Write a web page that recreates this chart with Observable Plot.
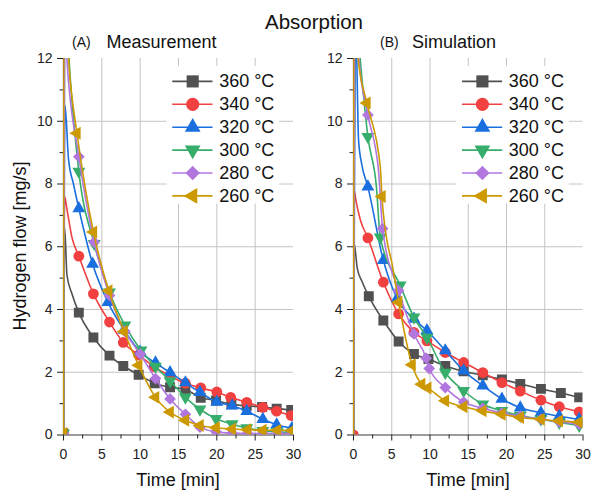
<!DOCTYPE html>
<html>
<head>
<meta charset="utf-8">
<script src="https://cdn.jsdelivr.net/npm/d3@7"></script>
<script src="https://cdn.jsdelivr.net/npm/@observablehq/plot@0.6"></script>
<style>
  html, body { margin: 0; padding: 0; background: #fff; }
  #wrap { position: relative; width: 592px; height: 490px; background: #fff; font-family: "Liberation Sans", Arial, sans-serif; overflow: hidden; }
  #wrap > div, #wrap > svg { position: absolute; top: 0; }
</style>
</head>
<body>
<div id="wrap">
  <div id="pa" style="left:0px"></div>
  <div id="pb" style="left:296px"></div>
</div>
<script>
// ---- categories / labels ----
const temps = ["360 °C", "340 °C", "320 °C", "300 °C", "280 °C", "260 °C"];
const panelTitles = ["Measurement", "Simulation"];
const panelTags = ["(A)", "(B)"];
const xTicks = [0, 5, 10, 15, 20, 25, 30];
const yTicks = [0, 2, 4, 6, 8, 10, 12];

// ---- series values: [time (min), flow (mg/s), has marker] ----
const meas360 = [[0,0.05,1],[0.15,6.6,0],[0.45,5.1,0],[1.1,4.5,0],[2,3.9,1],[3.9,3.11,1],[6,2.53,1],[7.8,2.2,1],[9.8,1.92,1],[11.9,1.65,1],[13.9,1.52,1],[15.9,1.45,1],[17.9,1.19,1],[19.9,1.1,1],[21.9,0.98,1],[23.9,0.93,1],[25.9,0.89,1],[27.8,0.84,1],[29.7,0.8,1]];
const meas340 = [[0,0.05,1],[0.15,7.6,0],[0.45,7.2,0],[1.1,6.3,0],[2,5.7,1],[3.9,4.5,1],[6,3.6,1],[7.8,2.95,1],[9.8,2.55,1],[11.8,2.18,1],[13.9,1.88,1],[15.9,1.65,1],[17.9,1.5,1],[20,1.37,1],[21.8,1.2,1],[23.9,1.04,1],[26,0.88,1],[27.8,0.76,1],[29.7,0.62,1]];
const meas320 = [[0,0.05,1],[0.2,10.5,0],[0.65,8.8,0],[1.3,8.0,0],[2,7.22,1],[3.8,5.45,1],[5.8,4.23,1],[7.9,3.35,1],[10,2.65,1],[12,2.3,1],[13.9,1.99,1],[15.9,1.67,1],[17.8,1.36,1],[20,1.05,1],[22,0.93,1],[23.9,0.76,1],[26,0.5,1],[27.8,0.33,1],[29.8,0.22,1]];
const meas300 = [[0,0.05,1],[0.2,14,0],[0.87,11.4,0],[2,8.4,1],[4,6.1,1],[6,4.55,1],[8,3.5,1],[10.1,2.7,1],[12,2.18,1],[13.9,1.72,1],[15.9,1.2,1],[17.8,0.82,1],[19.9,0.52,1],[22,0.35,1],[23.9,0.22,1],[26,0.14,1],[27.9,0.1,1],[29.8,0.08,1]];
const meas280 = [[0,0.05,1],[0.2,14,0],[0.44,12,0],[2,8.87,1],[4,6.15,1],[6,4.45,1],[8,3.3,1],[10,2.58,1],[12,1.8,1],[13.9,1.15,1],[15.9,0.66,1],[17.8,0.25,1],[19.9,0.1,1],[22,0.06,1],[24,0.05,1],[26,0.05,1],[28,0.05,1],[29.8,0.05,1]];
const meas260 = [[0,0.05,1],[0.03,14,0],[0.87,11.3,0],[1.75,9.62,1],[3.9,6.47,1],[5.9,4.6,1],[7.9,3.3,1],[9.8,2.22,1],[12,1.2,1],[13.9,0.73,1],[15.9,0.47,1],[17.8,0.3,1],[19.9,0.23,1],[22,0.19,1],[24,0.17,1],[26,0.15,1],[27.9,0.15,1],[29.8,0.14,1]];

const sim360 = [[0,0,0],[0.08,6.1,0],[0.5,5.3,0],[1.1,4.9,0],[2,4.42,1],[3.9,3.65,1],[5.9,2.98,1],[7.9,2.58,1],[9.8,2.42,1],[12,2.2,1],[14.4,2.03,1],[16.9,1.9,1],[19.4,1.77,1],[21.8,1.63,1],[24.5,1.47,1],[27.1,1.34,1],[29.5,1.2,1]];
const sim340 = [[0,0,1],[0.08,7.8,0],[0.3,7.5,0],[0.9,6.85,0],[1.88,6.28,1],[3.9,4.87,1],[5.9,3.86,1],[7.9,3.27,1],[9.6,3.0,1],[12,2.63,1],[14.4,2.31,1],[16.9,1.99,1],[19.4,1.67,1],[21.8,1.4,1],[24.5,1.11,1],[26.9,0.9,1],[29.5,0.74,1]];
const sim320 = [[0,0,0],[0.3,13,0],[0.66,9.4,0],[1.1,8.6,0],[1.88,7.91,1],[3.9,5.57,1],[5.7,4.35,1],[7.9,3.7,1],[9.6,3.33,1],[12,2.69,1],[14.4,2.05,1],[16.9,1.57,1],[19.4,1.15,1],[21.8,0.87,1],[24.5,0.71,1],[26.9,0.6,1],[29.5,0.5,1]];
const sim300 = [[0,0,0],[0.2,14,0],[0.87,12,0],[1.88,9.51,1],[3.0,7.9,0],[3.5,6.3,1],[6.1,4.77,1],[7.9,3.75,1],[9.6,3.11,1],[12,1.99,1],[14.4,1.41,1],[16.9,0.98,1],[19.4,0.77,1],[21.8,0.62,1],[24.5,0.5,1],[26.9,0.4,1],[29.5,0.3,1]];
const sim280 = [[0,0,0],[0.2,14,0],[0.7,12,0],[1.88,10.2,1],[3.28,8.4,0],[3.8,6.58,1],[5.9,4.6,1],[7.9,3.22,1],[9.5,2.45,1],[9.9,2.12,1],[12,1.51,1],[14.4,1.05,1],[16.9,0.85,1],[19.4,0.7,1],[21.8,0.6,1],[24.5,0.5,1],[26.9,0.42,1],[29.5,0.35,1]];
const sim260 = [[0,0,0],[0.03,14,0],[0.6,12,0],[1.75,10.58,1],[3.5,8.55,0],[3.72,7.6,1],[4.37,6.2,0],[5.0,5.5,0],[5.9,4.23,1],[7.65,2.24,1],[8.9,1.62,1],[9.7,1.5,1],[12,1.09,1],[14.4,0.9,1],[16.9,0.77,1],[19.4,0.66,1],[21.8,0.56,1],[24.5,0.5,1],[26.9,0.45,1],[29.5,0.41,1]];

// ---- styles ----
const colors = ["#515151", "#F14040", "#1A6FDF", "#37AD6B", "#B177DE", "#CC9900"];
const symbols = ["square", "circle", "triangle", "triangle", "square", "triangle"];
const rotations = [0, 0, 0, 180, 45, -90];
const markR = [5.6, 5.4, 4.8, 4.8, 4.7, 4.8];
const FONT = "'Liberation Sans', Arial, sans-serif";

const toRows = arr => arr.map(([t, v, m]) => ({t, v, m}));
const measSeries = [meas360, meas340, meas320, meas300, meas280, meas260].map(toRows);
const simSeries = [sim360, sim340, sim320, sim300, sim280, sim260].map(toRows);

function panel(series, opts) {
  const legendRows = temps.map((label, i) => ({label, i, y: 11.27 - i * 0.73}));
  const marks = [
    Plot.gridX({ticks: [5, 10, 15, 20, 25], stroke: "#c4c4c4", strokeOpacity: 1, strokeWidth: 1}),
    Plot.gridY({ticks: [2, 4, 6, 8, 10], stroke: "#c4c4c4", strokeOpacity: 1, strokeWidth: 1}),
    Plot.rect([0], {x1: 13.5, x2: 28.2, y1: 7.36, y2: 11.74, fill: "white"}),
    Plot.ruleX([0], {stroke: "#3a3a3a", strokeWidth: 1.2}),
    Plot.ruleY([0], {stroke: "#3a3a3a", strokeWidth: 1.2})
  ];
  series.forEach((rows, i) => {
    marks.push(Plot.line(rows, {x: "t", y: "v", stroke: colors[i], strokeWidth: 1.6, curve: "monotone-x", clip: true}));
    marks.push(Plot.dot(rows.filter(d => d.m), {x: "t", y: "v", symbol: symbols[i], rotate: rotations[i], fill: colors[i], stroke: "none", r: markR[i], clip: true}));
  });
  marks.push(
    Plot.axisX({ticks: xTicks, tickSize: 6, tickPadding: 8.5, fontSize: 14, label: null, tickFormat: d => String(d)}),
    Plot.axisX({ticks: [2.5, 7.5, 12.5, 17.5, 22.5, 27.5], tickSize: 4, label: null, tickFormat: () => ""}),
    Plot.axisY({ticks: yTicks, tickSize: 6, tickPadding: 5, fontSize: 14, label: null, tickFormat: d => String(d)}),
    Plot.axisY({ticks: [1, 3, 5, 7, 9, 11], tickSize: 3.5, label: null, tickFormat: () => ""})
  );
  legendRows.forEach((d, i) => {
    marks.push(Plot.ruleY([d.y], {x1: 14.25, x2: 19.5, stroke: colors[i], strokeWidth: 1.6}));
    marks.push(Plot.dot([d], {x: 16.85, y: "y", symbol: symbols[i], rotate: rotations[i], fill: colors[i], stroke: "none", r: markR[i] * 1.22}));
    marks.push(Plot.text([d], {x: 20.3, y: "y", text: "label", textAnchor: "start", fontSize: 18, fill: "#111"}));
  });
  return Plot.plot({
    width: 296,
    height: 490,
    marginLeft: opts.marginLeft,
    marginRight: opts.marginRight,
    marginTop: 58,
    marginBottom: 55.5,
    x: {domain: [0, 30]},
    y: {domain: [0, 12]},
    style: {fontFamily: FONT, fontSize: "14px", color: "#222", background: "transparent", overflow: "visible"},
    marks
  });
}

document.getElementById("pa").append(panel(measSeries, {marginLeft: 63, marginRight: 3}));
document.getElementById("pb").append(panel(simSeries, {marginLeft: 57, marginRight: 9.5}));

// ---- titles and axis titles ----
const svg = d3.select("#wrap").append("svg")
  .attr("width", 592).attr("height", 490)
  .style("left", "0px").style("pointer-events", "none")
  .style("font-family", FONT).style("fill", "#111");
svg.append("text").attr("x", 314).attr("y", 29).attr("text-anchor", "middle").attr("font-size", 20.5).text("Absorption");
[[72, 106.5], [380, 412]].forEach(([xt, xs], i) => {
  svg.append("text").attr("x", xt).attr("y", 47).attr("font-size", 14).text(panelTags[i]);
  svg.append("text").attr("x", xs).attr("y", 48).attr("font-size", 18).text(panelTitles[i]);
});
svg.append("text").attr("transform", "translate(26,246) rotate(-90)").attr("text-anchor", "middle").attr("font-size", 18).text("Hydrogen flow [mg/s]");
[178, 468].forEach(x => svg.append("text").attr("x", x).attr("y", 486).attr("text-anchor", "middle").attr("font-size", 18).text("Time [min]"));
</script>
</body>
</html>
